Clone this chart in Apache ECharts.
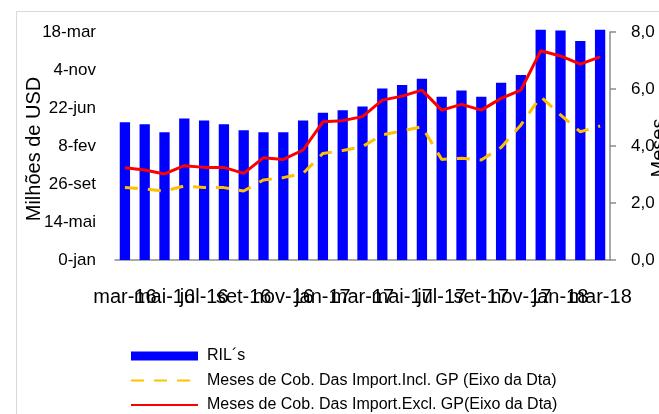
<!DOCTYPE html>
<html>
<head>
<meta charset="utf-8">
<script src="https://cdn.jsdelivr.net/npm/echarts@6/dist/echarts.min.js"></script>
<style>
html,body{margin:0;padding:0;background:#fff;}
#c{width:659px;height:414px;}
</style>
</head>
<body>
<div id="c"></div>
<script>
var categories = ['mar-16','abr-16','mai-16','jun-16','jul-16','ago-16','set-16','out-16','nov-16','dez-16','jan-17','fev-17','mar-17','abr-17','mai-17','jun-17','jul-17','ago-17','set-17','out-17','nov-17','dez-17','jan-18','fev-18','mar-18'];
var rilValues = [489,482,454,503,496,482,461,454,454,496,523,532,545,609,622,644,580,602,580,630,657,818,815,778,818];
var mesesIncl = [2.54,2.49,2.42,2.60,2.54,2.54,2.42,2.81,2.89,3.04,3.74,3.84,3.98,4.39,4.53,4.68,3.53,3.57,3.51,3.95,4.74,5.73,5.09,4.50,4.70];
var mesesExcl = [3.24,3.16,3.02,3.31,3.25,3.25,3.04,3.59,3.53,3.86,4.85,4.89,5.03,5.61,5.75,5.96,5.26,5.46,5.26,5.67,5.96,7.34,7.16,6.87,7.13];
var leftTickLabels = ['0-jan','14-mai','26-set','8-fev','22-jun','4-nov','18-mar'];
var seriesNames = ['RIL´s','Meses de Cob. Das Import.Incl. GP (Eixo da Dta)','Meses de Cob. Das Import.Excl. GP(Eixo da Dta)'];
var leftAxisTitle = 'Milhões de USD';
var rightAxisTitle = 'Meses';

var chart = echarts.init(document.getElementById('c'));
var FONT = '"Liberation Sans", Arial, sans-serif';
chart.setOption({
  animation: false,
  textStyle: {fontFamily: FONT},
  graphic: [{
    type: 'rect', shape: {x: 16.5, y: 11.5, width: 800, height: 600},
    style: {fill: 'none', stroke: '#d9d9d9', lineWidth: 1}, z: -1
  }, {
    type: 'text', x: 34, y: 149, rotation: Math.PI / 2,
    style: {text: leftAxisTitle, font: '20px "Liberation Sans"', fill: '#000', align: 'center', verticalAlign: 'middle'}
  }, {
    type: 'text', x: 659, y: 148, rotation: Math.PI / 2,
    style: {text: rightAxisTitle, font: '20px "Liberation Sans"', fill: '#000', align: 'center', verticalAlign: 'middle'}
  }],
  grid: {left: 115, right: 49, top: 32, bottom: 154, outerBoundsMode: 'none', containLabel: false},
  legend: {
    orient: 'vertical', left: 130, top: 348, height: 80, padding: 0,
    itemWidth: 67, itemHeight: 9, itemGap: 8.5,
    textStyle: {fontFamily: FONT, fontSize: 16, color: '#000', padding: [0, 0, 0, 4]},
    data: [
      {name: seriesNames[0], icon: 'rect'},
      {name: seriesNames[1], itemStyle: {opacity: 0}},
      {name: seriesNames[2], itemStyle: {opacity: 0}}
    ]
  },
  xAxis: {
    type: 'category', data: categories,
    axisLine: {lineStyle: {color: '#8c8c8c', width: 1.5}},
    axisTick: {show: false},
    axisLabel: {interval: 0, hideOverlap: false,
      fontSize: 20, color: '#000', margin: 27, fontFamily: FONT,
      formatter: function (v, i) { return i % 2 === 0 ? v : ''; }}
  },
  yAxis: [{
    type: 'value', min: 0, max: 810, interval: 135,
    axisLine: {show: false}, axisTick: {show: false}, splitLine: {show: false},
    axisLabel: {fontSize: 17, color: '#000', margin: 19,
      formatter: function (v) { return leftTickLabels[Math.round(v / 135)]; }}
  }, {
    type: 'value', min: 0, max: 8, interval: 2, position: 'right',
    axisLine: {show: true, lineStyle: {color: '#8c8c8c', width: 1.5}},
    axisTick: {show: true, length: 6, lineStyle: {color: '#8c8c8c', width: 1.5}},
    splitLine: {show: false},
    axisLabel: {fontSize: 17, color: '#000', margin: 21,
      formatter: function (v) { return v.toFixed(1).replace('.', ','); }}
  }],
  series: [{
    name: seriesNames[0], type: 'bar', data: rilValues, yAxisIndex: 0,
    barWidth: '52%', clip: false,
    itemStyle: {color: '#0000ff'}
  }, {
    name: seriesNames[1], type: 'line', data: mesesIncl, yAxisIndex: 1,
    symbol: 'none', lineStyle: {color: '#ffc000', width: 3, type: [13, 10]},
    itemStyle: {color: '#ffc000'}
  }, {
    name: seriesNames[2], type: 'line', data: mesesExcl, yAxisIndex: 1,
    symbol: 'none', lineStyle: {color: '#ff0000', width: 3},
    itemStyle: {color: '#ff0000'}
  }]
});
</script>
</body>
</html>
